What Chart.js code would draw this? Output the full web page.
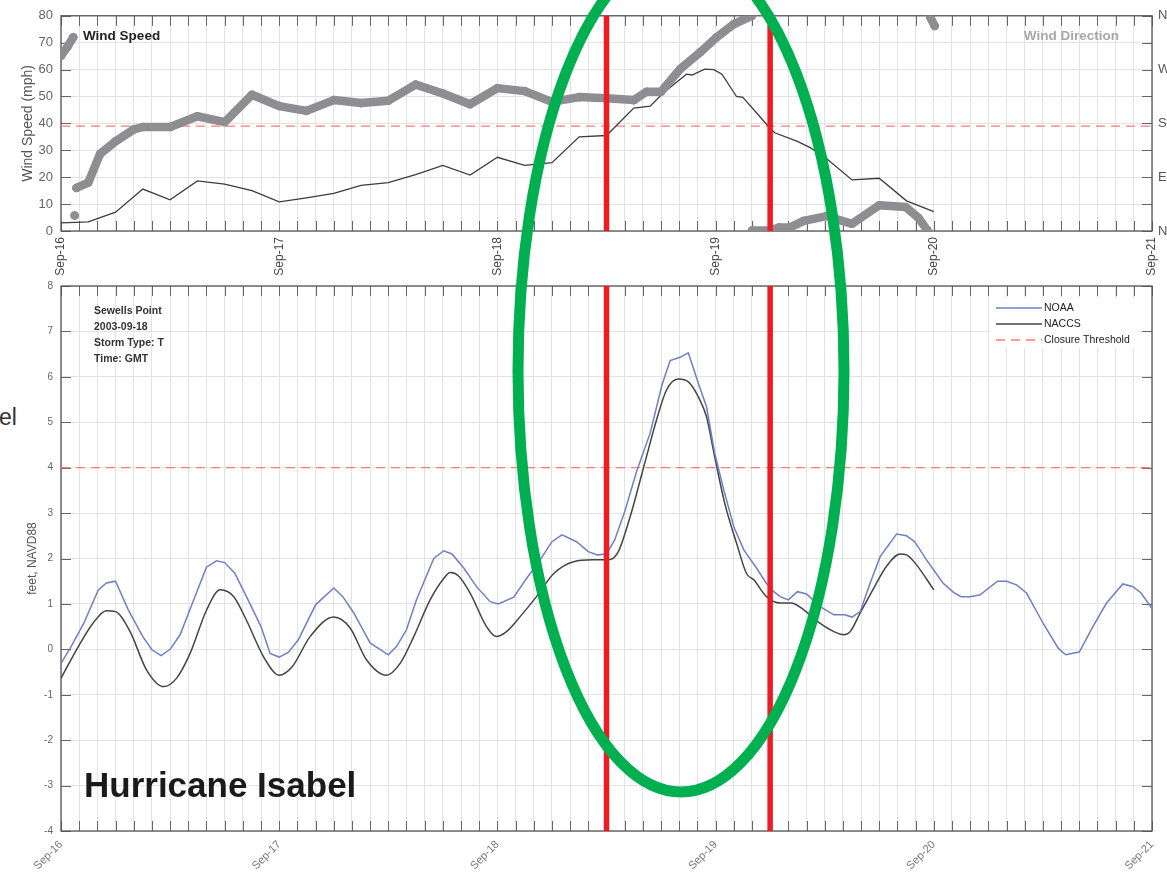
<!DOCTYPE html>
<html>
<head>
<meta charset="utf-8">
<script src="https://cdn.jsdelivr.net/npm/chart.js@4.4.1/dist/chart.umd.min.js"></script>
<style>
  body { margin: 0; background: #fff; width: 1167px; height: 873px; overflow: hidden; position: relative;
         font-family: "Liberation Sans", Arial, sans-serif; }
  #wind { position: absolute; left: 0; top: 0; }
  #tide { position: absolute; left: 0; top: 266px; }
  #marks { position: absolute; left: 0; top: 0; pointer-events: none; }
  #cut { position: absolute; left: -1px; top: 404px; font-size: 23px; color: #333; }
</style>
</head>
<body>
<div id="cut">el</div>
<canvas id="wind" width="1167" height="286"></canvas>
<canvas id="tide" width="1167" height="607"></canvas>
<canvas id="marks" width="1167" height="873"></canvas>
<script>
// hours counted from Sep-16 00:00 GMT
var dayLabels = ['Sep-16', 'Sep-17', 'Sep-18', 'Sep-19', 'Sep-20', 'Sep-21'];
var compassLabels = ['N', 'E', 'S', 'W', 'N'];
var eventHours = [60, 78];
var windThreshold = 39;
var tideThreshold = 4;

var windHours = [0, 3, 6, 9, 12, 15, 18, 21, 24, 27, 30, 33, 36, 39, 42, 45, 48, 51, 54, 57, 60, 63, 64.8, 66.3,
  68.8, 69.4, 70.8, 71.8, 72.7, 74.3, 75, 77.6, 78.5, 81, 82.4, 84, 87, 90, 93, 96];
var windMph = [3, 3.4, 7, 15.6, 11.6, 18.6, 17.4, 15, 10.8, 12.3, 14, 17, 18, 21, 24.4, 20.8, 27.4, 24.4, 25.4, 35,
  35.5, 45.7, 46.4, 51.5, 58.3, 58, 60.2, 60, 58.3, 50, 49.7, 39.7, 36.5, 33.3, 31, 27.5, 19, 19.6, 11.2, 7.2];

// wind direction in degrees, null = break where the direction wraps round
var dirHours = [0, 0.7, 1.35, 1.4, 1.5, 1.6, 1.7, 3, 4.3, 6, 8, 9, 12, 15, 18, 21, 24, 27, 30, 33, 36, 39, 42, 45,
  48, 51, 54, 57, 60, 63, 64.4, 66, 68.1, 70.3, 72.1, 74, 76, 76.01, 76.02, 78, 79, 80.2, 81.7, 84.2, 87, 90, 92.9,
  94.3, 95.3, 95.4, 95.6, 96.1];
var dirDeg = [293, 308, 324, null, 26, null, 72, 81, 129, 150, 170, 174, 174, 192, 182, 228, 209, 201, 219, 214, 218,
  245, 230, 212, 239, 234, 216, 224, 222, 219, 233, 233, 271, 299, 324, 346, 360, null, 1, 1, 6, 6, 17, 25, 12, 43,
  40, 22, 1, null, 358, 343];

var noaaHours = [0, 1, 2.5, 4.1, 5, 6, 7.4, 9, 10, 11, 12, 13.1, 14.6, 16, 17.1, 18, 19.1, 20.4, 22, 23, 24, 25, 26.1,
  28, 30, 31, 32.2, 34, 36, 36.9, 38, 39.1, 41, 42.1, 43, 44.3, 45.7, 47.2, 48.1, 49.8, 51.2, 52.7, 54, 55.1, 56.7,
  58, 59, 60, 60.9, 62, 63.3, 64.8, 66.1, 67, 68.1, 69, 70.1, 71, 71.9, 72.9, 74, 75.1, 76.5, 77.6, 78.4, 79.1, 80,
  81, 82, 83.5, 85, 86.2, 87, 87.9, 89, 90.1, 91.9, 93, 93.9, 95.2, 97, 98.2, 99, 100, 101.1, 103, 104, 105.1, 106.2,
  108, 109.7, 110.5, 112, 113.5, 115, 116.8, 117.9, 118.8, 120];
var noaaFt = [-0.31, 0.02, 0.57, 1.31, 1.46, 1.5, 0.87, 0.28, -0.01, -0.14, 0, 0.32, 1.09, 1.81, 1.95, 1.91, 1.68,
  1.16, 0.5, -0.09, -0.17, -0.07, 0.21, 0.98, 1.35, 1.16, 0.8, 0.14, -0.12, 0.06, 0.43, 1.09, 2.0, 2.17, 2.1, 1.79,
  1.38, 1.05, 1.0, 1.15, 1.56, 1.97, 2.37, 2.52, 2.37, 2.15, 2.08, 2.1, 2.41, 3.03, 3.91, 4.76, 5.82, 6.36, 6.43,
  6.53, 5.86, 5.34, 4.32, 3.51, 2.7, 2.19, 1.79, 1.45, 1.27, 1.16, 1.09, 1.27, 1.22, 0.94, 0.76, 0.76, 0.71, 0.83,
  1.46, 2.04, 2.54, 2.5, 2.37, 1.97, 1.46, 1.25, 1.16, 1.16, 1.2, 1.5, 1.5, 1.42, 1.24, 0.58, 0.02, -0.12, -0.06,
  0.5, 1.02, 1.44, 1.38, 1.24, 0.9];

var naccsHours = [0, 1.7, 3.5, 5, 6, 7.6, 9.4, 11.3, 12.7, 14.2, 16, 17.5, 19, 20.4, 22.3, 24, 25.4, 27.4, 30, 31.8,
  33.6, 35.8, 37.3, 38.8, 40.6, 42.1, 42.8, 43.7, 45, 46.8, 47.9, 49, 50.5, 52.3, 54.2, 56.4, 58.6, 60.4, 61.3, 62.6,
  64.1, 65.5, 66.6, 67.9, 69, 70.1, 71, 71.9, 73, 74.3, 75.4, 76.2, 77.6, 79.1, 80.3, 81.7, 83.5, 85, 86.1, 86.8,
  87.9, 89.4, 90.8, 92.3, 93, 94.1, 96];
var naccsFt = [-0.64, -0.01, 0.57, 0.85, 0.83, 0.39, -0.45, -0.82, -0.64, -0.09, 0.86, 1.31, 1.16, 0.64, -0.17, -0.57,
  -0.39, 0.28, 0.71, 0.47, -0.23, -0.57, -0.31, 0.28, 1.09, 1.56, 1.69, 1.62, 1.24, 0.5, 0.28, 0.39, 0.72, 1.16, 1.67,
  1.93, 1.97, 1.98, 2.15, 2.92, 4.02, 5.05, 5.71, 5.95, 5.89, 5.56, 5.12, 4.24, 3.22, 2.34, 1.67, 1.53, 1.16, 1.02,
  1.02, 0.87, 0.57, 0.39, 0.32, 0.39, 0.8, 1.35, 1.83, 2.1, 2.08, 1.86, 1.31];

function toPoints(xs, ys) {
  var out = [];
  for (var i = 0; i < xs.length; i++) out.push({ x: xs[i], y: ys[i] });
  return out;
}

function dayTick(v) {
  return v % 24 === 0 ? dayLabels[v / 24] : '';
}

Chart.defaults.font.family = '"Liberation Sans", Arial, sans-serif';

// MATLAB style box with inward tick marks
var boxTicks = {
  id: 'boxTicks',
  beforeDatasetsDraw: function(chart, args, opts) {
    var a = chart.chartArea, ctx = chart.ctx, len = 10;
    ctx.save();
    ctx.beginPath();
    ctx.strokeStyle = '#666';
    ctx.lineWidth = 1;
    chart.scales.x.ticks.forEach(function(t) {
      var x = Math.round(chart.scales.x.getPixelForValue(t.value)) + 0.5;
      ctx.moveTo(x, a.top); ctx.lineTo(x, a.top + len);
      ctx.moveTo(x, a.bottom); ctx.lineTo(x, a.bottom - len);
    });
    var ls = chart.scales[opts.left], rs = chart.scales[opts.right];
    ls.ticks.forEach(function(t) {
      var y = Math.round(ls.getPixelForValue(t.value)) + 0.5;
      ctx.moveTo(a.left, y); ctx.lineTo(a.left + len, y);
    });
    rs.ticks.forEach(function(t) {
      var y = Math.round(rs.getPixelForValue(t.value)) + 0.5;
      ctx.moveTo(a.right, y); ctx.lineTo(a.right - len, y);
    });
    ctx.stroke();
    ctx.strokeStyle = '#555';
    ctx.lineWidth = 1.3;
    ctx.strokeRect(a.left, a.top, a.right - a.left, a.bottom - a.top);
    ctx.restore();
  }
};

// red vertical lines at the closure times
var eventLines = {
  id: 'eventLines',
  afterDatasetsDraw: function(chart) {
    var a = chart.chartArea, ctx = chart.ctx;
    ctx.save();
    ctx.strokeStyle = '#ed1c24';
    ctx.lineWidth = 5.5;
    eventHours.forEach(function(h) {
      var x = chart.scales.x.getPixelForValue(h);
      ctx.beginPath();
      ctx.moveTo(x, a.top);
      ctx.lineTo(x, a.bottom);
      ctx.stroke();
    });
    ctx.restore();
  }
};

var notes = {
  id: 'notes',
  afterDraw: function(chart, args, opts) {
    var ctx = chart.ctx;
    ctx.save();
    opts.items.forEach(function(n) {
      ctx.font = n.font;
      ctx.fillStyle = n.color;
      ctx.textAlign = n.align || 'left';
      ctx.textBaseline = 'alphabetic';
      ctx.fillText(n.text, n.x, n.y);
    });
    ctx.restore();
  }
};

var boxLegend = {
  id: 'boxLegend',
  afterDraw: function(chart) {
    var ctx = chart.ctx;
    ctx.save();
    ctx.fillStyle = '#fff';
    ctx.fillRect(990, 32, 148, 50);
    ctx.font = '10.5px "Liberation Sans", Arial, sans-serif';
    ctx.textBaseline = 'middle';
    chart.data.datasets.forEach(function(ds, i) {
      var y = 42 + i * 16;
      ctx.beginPath();
      ctx.strokeStyle = ds.borderColor;
      ctx.lineWidth = ds.borderWidth;
      ctx.setLineDash(ds.borderDash || []);
      ctx.moveTo(996, y);
      ctx.lineTo(1042, y);
      ctx.stroke();
      ctx.setLineDash([]);
      ctx.fillStyle = '#222';
      ctx.fillText(ds.label, 1044, y);
    });
    ctx.restore();
  }
};

var gridColor = '#e3e3e3';

var windChart = new Chart(document.getElementById('wind'), {
  type: 'line',
  data: {
    datasets: [{
      label: 'Wind Direction',
      data: toPoints(dirHours, dirDeg),
      yAxisID: 'y2',
      borderColor: '#8e8e92',
      backgroundColor: '#8e8e92',
      borderWidth: 8.5,
      pointRadius: 4.3,
      pointBorderWidth: 0,
      borderCapStyle: 'round',
      borderJoinStyle: 'round',
      spanGaps: false
    }, {
      label: 'Wind Speed',
      data: toPoints(windHours, windMph),
      yAxisID: 'y',
      borderColor: '#3c3c3c',
      borderWidth: 1.3,
      pointRadius: 0
    }, {
      label: 'Threshold',
      data: [{ x: 0, y: windThreshold }, { x: 120, y: windThreshold }],
      yAxisID: 'y',
      borderColor: '#ff7b7b',
      borderDash: [9, 6],
      borderWidth: 1.3,
      pointRadius: 0
    }]
  },
  options: {
    responsive: false,
    animation: false,
    layout: { padding: { top: 13, left: 0, right: 0, bottom: 0 } },
    plugins: {
      legend: { display: false },
      tooltip: { enabled: false },
      boxTicks: { left: 'y', right: 'y2' },
      notes: {
        items: [
          { text: 'Wind Speed', x: 83, y: 40, font: 'bold 13.5px "Liberation Sans", Arial, sans-serif', color: '#222' },
          { text: 'Wind Direction', x: 1119, y: 40, font: 'bold 13.5px "Liberation Sans", Arial, sans-serif', color: '#a8a8a8', align: 'right' }
        ]
      }
    },
    scales: {
      x: {
        type: 'linear', min: 0, max: 120,
        afterFit: function(s) { s.height = 55; s.paddingLeft = 0; s.paddingRight = 0; },
        grid: { color: gridColor, drawTicks: false },
        border: { display: false },
        ticks: { stepSize: 2, autoSkip: false, maxTicksLimit: 100, minRotation: 90, maxRotation: 90,
                 padding: 6, color: '#444', font: { size: 12 }, callback: dayTick }
      },
      y: {
        min: 0, max: 80,
        afterFit: function(s) { s.width = 61; },
        grid: { color: gridColor, drawTicks: false },
        border: { display: false },
        ticks: { stepSize: 10, padding: 8, color: '#666', font: { size: 13 } },
        title: { display: true, text: 'Wind Speed (mph)', color: '#555', font: { size: 14 }, padding: { top: 20, bottom: 0 } }
      },
      y2: {
        position: 'right', min: 0, max: 360,
        afterFit: function(s) { s.width = 15; },
        grid: { display: false, drawTicks: false },
        border: { display: false },
        ticks: { stepSize: 45, padding: 6, color: '#555', font: { size: 13 },
                 callback: function(v) { return v % 90 === 0 ? compassLabels[v / 90] : ''; } }
      }
    }
  },
  plugins: [boxTicks, eventLines, notes]
});

var tideChart = new Chart(document.getElementById('tide'), {
  type: 'line',
  data: {
    datasets: [{
      label: 'NOAA',
      data: toPoints(noaaHours, noaaFt),
      borderColor: '#6f7fc6',
      borderWidth: 1.5,
      pointRadius: 0
    }, {
      label: 'NACCS',
      data: toPoints(naccsHours, naccsFt),
      borderColor: '#444',
      borderWidth: 1.5,
      pointRadius: 0,
      cubicInterpolationMode: 'monotone'
    }, {
      label: 'Closure Threshold',
      data: [{ x: 0, y: tideThreshold }, { x: 120, y: tideThreshold }],
      borderColor: '#ff7b7b',
      borderDash: [9, 6],
      borderWidth: 1.3,
      pointRadius: 0
    }]
  },
  options: {
    responsive: false,
    animation: false,
    layout: { padding: { top: 20, left: 0, right: 15, bottom: 0 } },
    plugins: {
      legend: { display: false },
      tooltip: { enabled: false },
      boxTicks: { left: 'y', right: 'y' },
      notes: {
        items: [
          { text: 'Sewells Point', x: 94, y: 48, font: 'bold 10.5px "Liberation Sans", Arial, sans-serif', color: '#333' },
          { text: '2003-09-18', x: 94, y: 64, font: 'bold 10.5px "Liberation Sans", Arial, sans-serif', color: '#333' },
          { text: 'Storm Type: T', x: 94, y: 80, font: 'bold 10.5px "Liberation Sans", Arial, sans-serif', color: '#333' },
          { text: 'Time: GMT', x: 94, y: 96, font: 'bold 10.5px "Liberation Sans", Arial, sans-serif', color: '#333' },
          { text: 'Hurricane Isabel', x: 84, y: 531, font: 'bold 35px "Liberation Sans", Arial, sans-serif', color: '#1a1a1a' }
        ]
      }
    },
    scales: {
      x: {
        type: 'linear', min: 0, max: 120,
        afterFit: function(s) { s.height = 42; s.paddingLeft = 0; s.paddingRight = 0; },
        grid: { color: gridColor, drawTicks: false },
        border: { display: false },
        ticks: { stepSize: 2, autoSkip: false, maxTicksLimit: 100, minRotation: 45, maxRotation: 45,
                 padding: 7, color: '#777', font: { size: 11 }, callback: dayTick }
      },
      y: {
        min: -4, max: 8,
        afterFit: function(s) { s.width = 61; },
        grid: { color: gridColor, drawTicks: false },
        border: { display: false },
        ticks: { stepSize: 1, padding: 8, color: '#666', font: { size: 10 } },
        title: { display: true, text: 'feet, NAVD88', color: '#555', font: { size: 12 }, padding: { top: 25, bottom: 0 } }
      }
    }
  },
  plugins: [boxTicks, eventLines, notes, boxLegend]
});

// green ring drawn over both panels
var mctx = document.getElementById('marks').getContext('2d');
mctx.strokeStyle = '#00b050';
mctx.lineWidth = 11;
mctx.beginPath();
mctx.ellipse(681, 371, 163, 421, 0, 0, Math.PI * 2);
mctx.stroke();
</script>
</body>
</html>
